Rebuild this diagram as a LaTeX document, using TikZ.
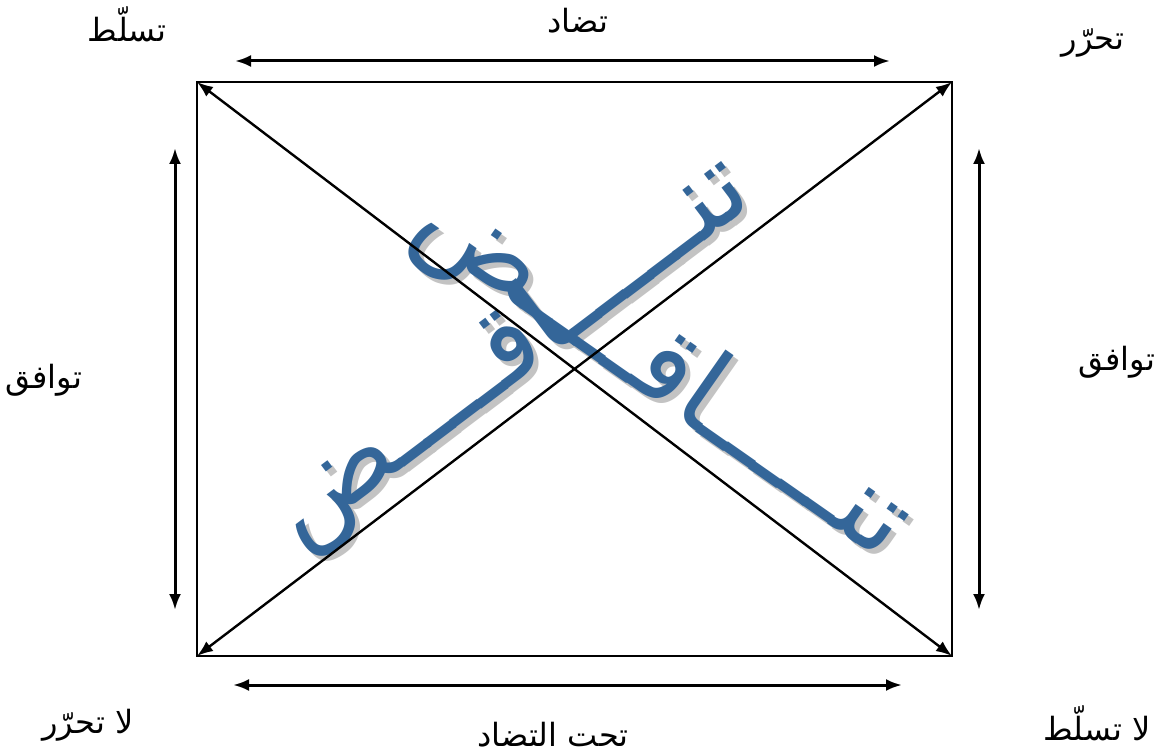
\documentclass[tikz,border=0pt]{standalone}
\usepackage{fontspec}
\usetikzlibrary{arrows.meta}
\TeXXeTstate=1
\newfontfamily\arabicfont[Script=Arabic]{DejaVu Sans}
\definecolor{bigblue}{RGB}{52,102,153}
\definecolor{shadowgray}{RGB}{195,195,195}
\begin{document}
\begin{tikzpicture}[x=1pt,y=-1pt,
  lbl/.style={inner sep=0pt,font=\arabicfont\fontsize{32}{36}\selectfont},
  bigtxt/.style={inner sep=0pt,text=bigblue,font=\arabicfont\fontsize{110}{120}\selectfont},
  shadowtxt/.style={inner sep=0pt,text=shadowgray,font=\arabicfont\fontsize{110}{120}\selectfont},
  dbl/.style={line width=3pt,{Latex[length=16pt,width=12pt]}-{Latex[length=16pt,width=12pt]}},
  diag/.style={line width=2.4pt,{Latex[length=16pt,width=12pt]}-{Latex[length=16pt,width=12pt]}},
  box/.style={line width=2.6pt}]
\useasboundingbox (0,0) rectangle (1162,754);
% corners
\coordinate (A) at (197,82);
\coordinate (B) at (952,82);
\coordinate (C) at (952,656);
\coordinate (D) at (197,656);
\draw[box] (A) -- (B) -- (C) -- (D) -- cycle;
% big diagonal texts
\node[shadowtxt,rotate=37] (s1) at (515,357) {\beginR تنـــــاقــــض\endR};
\node[shadowtxt,rotate=-35] (s2) at (667,378) {\beginR تنـــــاقــــض\endR};
\node[bigtxt,rotate=37] (t1) at (510,352) {\beginR تنـــــاقــــض\endR};
\node[bigtxt,rotate=-35] (t2) at (662,373) {\beginR تنـــــاقــــض\endR};
% diagonals
\draw[diag] (A) -- (C);
\draw[diag] (B) -- (D);
% side arrows
\coordinate (t-l) at (235,61); \coordinate (t-r) at (890,61);
\coordinate (b-l) at (233,685); \coordinate (b-r) at (902,685);
\coordinate (l-t) at (175,148); \coordinate (l-b) at (175,610);
\coordinate (r-t) at (979,148); \coordinate (r-b) at (979,610);
\draw[dbl] (t-l) -- (t-r);
\draw[dbl] (b-l) -- (b-r);
\draw[dbl] (l-t) -- (l-b);
\draw[dbl] (r-t) -- (r-b);
% labels
\node[lbl] (ltl) at (127,24) {\beginR تسلّط\endR};
\node[lbl] (ltr) at (1093,43) {\beginR تحرّر\endR};
\node[lbl] (ltop) at (578,21) {\beginR تضاد\endR};
\node[lbl] (lbot) at (553,735) {\beginR تحت التضاد\endR};
\node[lbl] (lbl) at (88,725) {\beginR لا تحرّر\endR};
\node[lbl] (lbr) at (1097,723) {\beginR لا تسلّط\endR};
\node[lbl] (lleft) at (44,380) {\beginR توافق\endR};
\node[lbl] (lright) at (1117,362) {\beginR توافق\endR};
\end{tikzpicture}
\end{document}
